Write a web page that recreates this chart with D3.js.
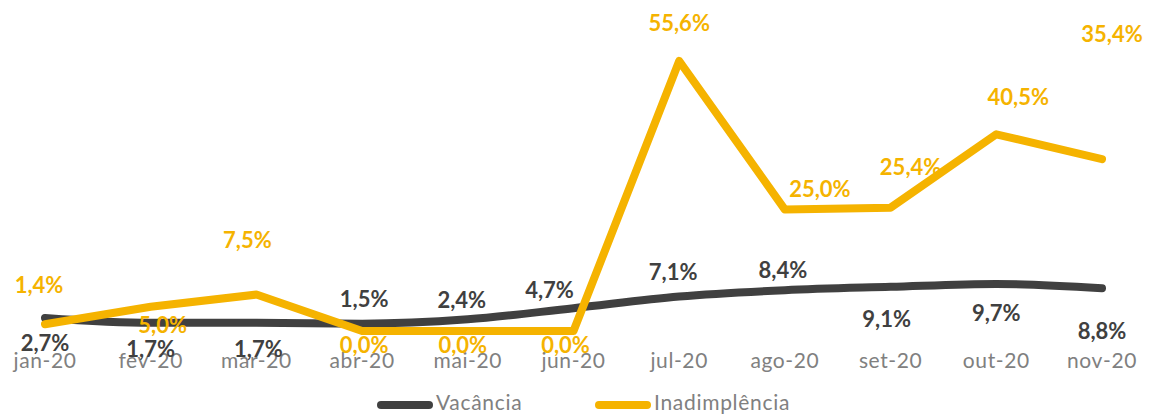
<!DOCTYPE html>
<html>
<head>
<meta charset="utf-8">
<script src="https://cdn.jsdelivr.net/npm/d3@7"></script>
<style>
  body { margin: 0; background: #fff; }
  text { font-family: "Lato", "Open Sans", sans-serif; }
</style>
</head>
<body>
<div id="chart"></div>
<script>
// data
var months = ["jan-20", "fev-20", "mar-20", "abr-20", "mai-20", "jun-20", "jul-20", "ago-20", "set-20", "out-20", "nov-20"];
var vacancia = [2.7, 1.7, 1.7, 1.5, 2.4, 4.7, 7.1, 8.4, 9.1, 9.7, 8.8];
var inadimplencia = [1.4, 5.0, 7.5, 0.0, 0.0, 0.0, 55.6, 25.0, 25.4, 40.5, 35.4];
var seriesNames = ["Vacância", "Inadimplência"];

// label offsets (dx, dy from the point), as placed in the original
var vacOffsets = [[0, 27], [0, 29], [2, 29], [2, -22], [-6, -17], [-24, -16], [-6, -22], [-2, -18], [-4, 35], [0, 31], [0, 45]];
var inadOffsets = [[-6, -37], [12, 21], [-9, -52], [2, 16], [-5, 16], [-8, 16], [0, -36], [35, -18], [20, -38], [22, -35], [10, -123]];

var width = 1166, height = 415;
var colVac = "#404040", colInad = "#F5B300", colAxis = "#808080";

var svg = d3.select("#chart")
  .append("svg")
    .attr("width", width)
    .attr("height", height);

var x = d3.scalePoint()
  .domain(months)
  .range([45, 1102]);

var y = d3.scaleLinear()
  .domain([0, 55.6])
  .range([331, 61]);

var fmt = function(v) { return d3.format(".1f")(v).replace(".", ",") + "%"; };

// x axis labels
svg.append("g")
  .selectAll("text")
  .data(months)
  .enter()
  .append("text")
    .attr("x", function(d) { return x(d); })
    .attr("y", 363)
    .attr("text-anchor", "middle")
    .attr("dominant-baseline", "middle")
    .style("font-size", "21px")
    .style("letter-spacing", "0.6px")
    .style("fill", colAxis)
    .text(function(d) { return d; });

// lines
var lineVac = d3.line()
  .x(function(d, i) { return x(months[i]); })
  .y(function(d) { return y(d); })
  .curve(d3.curveMonotoneX);

var lineInad = d3.line()
  .x(function(d, i) { return x(months[i]); })
  .y(function(d) { return y(d); });

svg.append("path")
  .datum(vacancia)
  .attr("d", lineVac)
  .attr("fill", "none")
  .attr("stroke", colVac)
  .attr("stroke-width", 8)
  .attr("stroke-linecap", "round")
  .attr("stroke-linejoin", "round");

svg.append("path")
  .datum(inadimplencia)
  .attr("d", lineInad)
  .attr("fill", "none")
  .attr("stroke", colInad)
  .attr("stroke-width", 8)
  .attr("stroke-linecap", "round")
  .attr("stroke-linejoin", "round");

// data labels
function addLabels(values, offsets, color) {
  svg.append("g")
    .selectAll("text")
    .data(values)
    .enter()
    .append("text")
      .attr("x", function(d, i) { return x(months[i]) + offsets[i][0]; })
      .attr("y", function(d, i) { return y(d) + offsets[i][1]; })
      .attr("text-anchor", "middle")
      .attr("dominant-baseline", "middle")
      .style("font-size", "22px")
      .style("font-weight", "bold")
      .style("fill", color)
      .text(function(d) { return fmt(d); });
}
addLabels(vacancia, vacOffsets, colVac);
addLabels(inadimplencia, inadOffsets, colInad);

// legend
var legendX = [381, 599];
var legend = svg.append("g")
  .selectAll("g")
  .data(seriesNames)
  .enter()
  .append("g")
    .attr("transform", function(d, i) { return "translate(" + legendX[i] + ",405)"; });

legend.append("line")
  .attr("x1", 0)
  .attr("x2", 48)
  .attr("stroke", function(d, i) { return i == 0 ? colVac : colInad; })
  .attr("stroke-width", 8)
  .attr("stroke-linecap", "round");

legend.append("text")
  .attr("x", 55)
  .attr("y", 0)
  .attr("dominant-baseline", "middle")
  .style("font-size", "21px")
  .style("letter-spacing", "0.7px")
  .style("fill", colAxis)
  .text(function(d) { return d; });
</script>
</body>
</html>
